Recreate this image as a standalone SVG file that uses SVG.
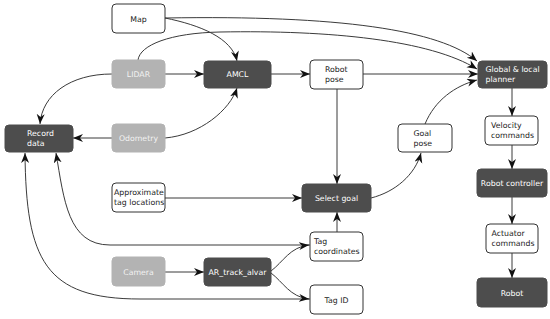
<svg xmlns="http://www.w3.org/2000/svg" width="550" height="319" viewBox="0 0 550 319">
<style>
text{font-family:"DejaVu Sans","Verdana",sans-serif;font-size:7.8px}
.w rect{fill:#fff;stroke:#333;stroke-width:1}
.w text{fill:#222}
.d rect{fill:#4d4d4d;stroke:#4d4d4d;stroke-width:1}
.d text{fill:#fff}
.g rect{fill:#b3b3b3;stroke:#b3b3b3;stroke-width:1}
.g text{fill:#f2f2f2}
.c{text-anchor:middle}
#edges path{fill:none;stroke:#3a3a3a;stroke-width:1;marker-end:url(#ah)}
</style>
<defs>
<marker id="ah" markerUnits="userSpaceOnUse" markerWidth="11" markerHeight="9" refX="10" refY="4" orient="auto">
<path d="M0,0 L10,4 L0,8 L3,4 z" fill="#111"/>
</marker>
</defs>
<rect width="550" height="319" fill="#fff"/>
<g id="edges">
<path d="M165,18 C340,15 440,30 477,61"/>
<path d="M138,60 C140,45 170,33 220,32 C330,30 430,40 477,69"/>
<path d="M165,18 C200,25 232,38 237,61"/>
<path d="M165,74 L204,74"/>
<path d="M112,74 C70,74 42,95 40,124"/>
<path d="M112,138 L73,138"/>
<path d="M165,138 C200,135 230,110 237,88"/>
<path d="M271,74 L310,74"/>
<path d="M363,74 L478,74"/>
<path d="M337,89 L337,184"/>
<path d="M425,124 C435,100 455,86 477,80"/>
<path d="M371,198 C395,192 415,175 421,153"/>
<path d="M165,198 L302,198"/>
<path d="M337,232 L337,212"/>
<path d="M310,245 L110,245 C68,245 64,200 56,153"/>
<path d="M310,299 L140,299 C45,299 26,260 25,153"/>
<path d="M165,272 L204,272"/>
<path d="M271,271 C283,262 290,247 309,245"/>
<path d="M271,273 C283,282 290,297 309,299"/>
<path d="M512,88 L512,116"/>
<path d="M512,145 L512,169"/>
<path d="M512,197 L512,224"/>
<path d="M512,253 L512,278"/>
</g>
<g id="map" class="w"><rect x="112" y="4" width="53" height="29" rx="4"/><text class="c" x="138.5" y="21.5">Map</text></g>
<g id="lidar" class="g"><rect x="112" y="60" width="53" height="28" rx="4"/><text class="c" x="138.5" y="77">LIDAR</text></g>
<g id="amcl" class="d"><rect x="204" y="61" width="67" height="27" rx="4"/><text class="c" x="237.5" y="77">AMCL</text></g>
<g id="odometry" class="g"><rect x="112" y="124" width="53" height="28" rx="4"/><text class="c" x="138.5" y="141">Odometry</text></g>
<g id="record" class="d"><rect x="5" y="125" width="68" height="27" rx="4"/><text x="27" y="136">Record</text><text x="27" y="146">data</text></g>
<g id="robotpose" class="w"><rect x="310" y="60" width="53" height="29" rx="4"/><text x="325" y="72">Robot</text><text x="325" y="82">pose</text></g>
<g id="planner" class="d"><rect x="478" y="61" width="69" height="27" rx="4"/><text x="485.5" y="72">Global &amp; local</text><text x="485.5" y="82">planner</text></g>
<g id="velocity" class="w"><rect x="485" y="116" width="53" height="29" rx="4"/><text x="491" y="128">Velocity</text><text x="491" y="138">commands</text></g>
<g id="goalpose" class="w"><rect x="398" y="124" width="54" height="28" rx="4"/><text x="413.5" y="136">Goal</text><text x="413.5" y="146">pose</text></g>
<g id="controller" class="d"><rect x="477" y="169" width="70" height="28" rx="4"/><text class="c" x="512" y="186">Robot controller</text></g>
<g id="actuator" class="w"><rect x="486" y="224" width="52" height="29" rx="4"/><text x="491.5" y="236">Actuator</text><text x="491.5" y="246">commands</text></g>
<g id="robot" class="d"><rect x="477" y="278" width="70" height="29" rx="4"/><text class="c" x="512" y="295.5">Robot</text></g>
<g id="selectgoal" class="d"><rect x="302" y="184" width="69" height="28" rx="4"/><text class="c" x="336.5" y="201">Select goal</text></g>
<g id="approx" class="w"><rect x="112" y="183" width="53" height="29" rx="4"/><text x="114" y="195">Approximate</text><text x="114" y="205">tag locations</text></g>
<g id="tagcoords" class="w"><rect x="310" y="232" width="53" height="29" rx="4"/><text x="314" y="244">Tag</text><text x="314" y="254">coordinates</text></g>
<g id="tagid" class="w"><rect x="310" y="285" width="53" height="29" rx="4"/><text class="c" x="336.5" y="302.5">Tag ID</text></g>
<g id="camera" class="g"><rect x="112" y="257" width="53" height="29" rx="4"/><text class="c" x="138.5" y="274.5">Camera</text></g>
<g id="artrack" class="d"><rect x="204" y="258" width="67" height="28" rx="4"/><text class="c" x="237.5" y="275">AR_track_alvar</text></g>
</svg>
